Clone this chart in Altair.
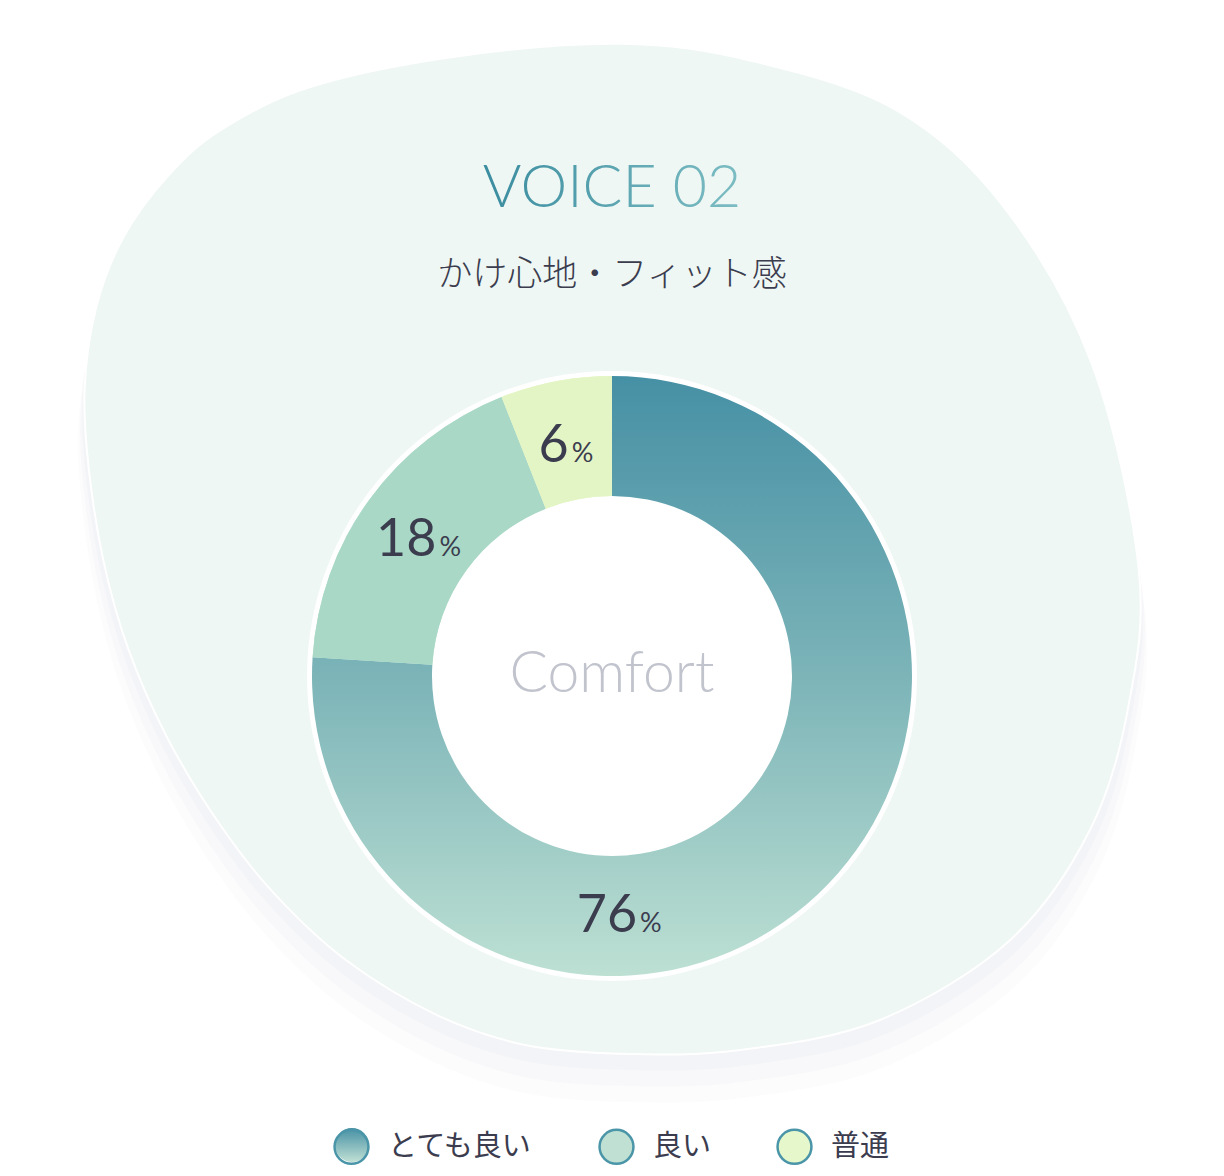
import numpy as np
import pandas as pd
import altair as alt

# ---------------- data ----------------
categories = ["とても良い", "良い", "普通"]
values = [76, 18, 6]
title_text = "VOICE 02"
subtitle_text = "かけ心地・フィット感"
center_text = "Comfort"

arc_colors = ["#7cb4b8", "#a9d9c6", "#e4f5c5"]
legend_colors = ["transparent", "#bfe0d3", "#e6f7cc"]   # first symbol drawn with a gradient below

# ---------------- layout / style ----------------
W, H = 1208, 1160
CX, CY = 604, 668
R_OUT, R_IN = 300, 180
TEXT_DARK = "#3b3c4e"

grad_v = {"gradient": "linear", "x1": 0, "y1": 0, "x2": 0, "y2": 1,
          "stops": [{"offset": 0, "color": "#4690a5"},
                    {"offset": 0.5, "color": "#7cb4b8"},
                    {"offset": 1, "color": "#bde0d3"}]}
grad_leg = {"gradient": "linear", "x1": 0, "y1": 0, "x2": 0, "y2": 1,
            "stops": [{"offset": 0, "color": "#4690a5"},
                      {"offset": 1, "color": "#c0e0d4"}]}
grad_h = {"gradient": "linear", "x1": 0, "y1": 0, "x2": 1, "y2": 0,
          "stops": [{"offset": 0, "color": "#3a8c9f"},
                    {"offset": 1, "color": "#7dbdc3"}]}

# background blob outline (unit square coords, clockwise from top)
blob_pts = [(0.016, -0.954), (0.268, -0.921), (0.538, -0.829), (0.741, -0.647),
            (0.909, -0.348), (0.998, 0.044), (0.977, 0.305), (0.905, 0.534),
            (0.754, 0.742), (0.508, 0.893), (0.243, 0.950), (0.016, 0.957),
            (-0.166, 0.940), (-0.334, 0.882), (-0.502, 0.780), (-0.639, 0.653),
            (-0.739, 0.526), (-0.841, 0.358), (-0.915, 0.189), (-0.962, 0.021),
            (-0.989, -0.149), (-0.997, -0.300), (-0.975, -0.455), (-0.925, -0.585),
            (-0.841, -0.702), (-0.739, -0.791), (-0.570, -0.872), (-0.300, -0.929)]


def smooth_closed_path(pts):
    n = len(pts)
    d = [f"M{pts[0][0]:.3f},{pts[0][1]:.3f}"]
    for i in range(n):
        p0, p1, p2, p3 = pts[(i - 1) % n], pts[i], pts[(i + 1) % n], pts[(i + 2) % n]
        c1 = (p1[0] + (p2[0] - p0[0]) / 6, p1[1] + (p2[1] - p0[1]) / 6)
        c2 = (p2[0] - (p3[0] - p1[0]) / 6, p2[1] - (p3[1] - p1[1]) / 6)
        d.append(f"C{c1[0]:.3f},{c1[1]:.3f},{c2[0]:.3f},{c2[1]:.3f},{p2[0]:.3f},{p2[1]:.3f}")
    d.append("Z")
    return " ".join(d)


blob_path = smooth_closed_path(blob_pts)
BLOB_CX, BLOB_CY, BLOB_HALF = 603.5, 540, 528.5

one = pd.DataFrame({"k": [0]})


def blob_layer(scale, dy, fill, opacity, stroke=None):
    kw = dict(shape=blob_path, size=(2 * BLOB_HALF * scale) ** 2, filled=True,
              fill=fill, opacity=opacity)
    if stroke:
        kw.update(stroke=stroke, strokeWidth=2)
    else:
        kw.update(strokeWidth=0)
    return alt.Chart(one).mark_point(**kw).encode(
        x=alt.value(BLOB_CX), y=alt.value(BLOB_CY + dy))


shadows = [blob_layer(1.012, 42, "#e4e6ec", 0.10),
           blob_layer(1.008, 28, "#e4e6ec", 0.15),
           blob_layer(1.004, 14, "#e4e6ec", 0.22)]
blob = blob_layer(1.0, 0, "#eef7f3", 1, stroke="white")

# ---------------- donut ----------------
df = pd.DataFrame({"cat": categories, "v": values, "order": list(range(len(values)))})
cum = np.cumsum(values)
mids = cum - np.array(values) / 2.0
df["mid"] = [49.4 if v > 50 else m for v, m in zip(values, mids)]
df["num"] = [str(v) for v in values]
df["pct"] = "%"
df["digits"] = df["num"].str.len()

ring = alt.Chart(one).mark_arc(radius=R_OUT + 5, radius2=0, theta=0, theta2=2 * np.pi,
                               fill="white").encode(x=alt.value(CX), y=alt.value(CY))

LEG_X, LEG_Y = 325, 1120
SYM_SIZE = 1150
SYM_STROKE = "#4a95a8"

legend = alt.Legend(orient="none", legendX=LEG_X, legendY=LEG_Y, direction="horizontal",
                    title=None, symbolType="circle", symbolSize=SYM_SIZE,
                    symbolStrokeColor=SYM_STROKE, symbolStrokeWidth=2.5, symbolOpacity=1,
                    labelFont="Noto Sans CJK JP", labelFontSize=29, labelColor=TEXT_DARK,
                    labelOffset=18, columnPadding=60, padding=0)

# background arcs only carry the legend colours (fully covered by the visible arcs)
legend_arcs = alt.Chart(df).mark_arc(outerRadius=R_OUT, innerRadius=R_IN).encode(
    theta=alt.Theta("v:Q", stack=True, scale=alt.Scale(domain=[0, 100])),
    order=alt.Order("order:Q"),
    fill=alt.Fill("cat:N", scale=alt.Scale(domain=categories, range=legend_colors),
                  legend=legend),
    x=alt.value(CX), y=alt.value(CY),
)

arcs = alt.Chart(df).mark_arc(outerRadius=R_OUT, innerRadius=R_IN).encode(
    theta=alt.Theta("v:Q", stack=True, scale=alt.Scale(domain=[0, 100])),
    order=alt.Order("order:Q"),
    stroke=alt.condition(alt.datum.cat == categories[0], alt.value(None), alt.value(None)),
    x=alt.value(CX), y=alt.value(CY),
)
arcs = alt.Chart(df).mark_arc(outerRadius=R_OUT, innerRadius=R_IN).encode(
    theta=alt.Theta("v:Q", stack=True, scale=alt.Scale(domain=[0, 100])),
    order=alt.Order("order:Q"),
    color=alt.condition(alt.datum.cat == categories[0], alt.value(grad_v),
                        alt.Color("cat:N", scale=alt.Scale(domain=categories, range=arc_colors),
                                  legend=None)),
    x=alt.value(CX), y=alt.value(CY),
)

lbl = alt.Chart(df).encode(
    theta=alt.Theta("mid:Q", scale=alt.Scale(domain=[0, 100])),
    x=alt.value(CX), y=alt.value(CY),
)
nums = lbl.mark_text(radius=237, font="Lato", fontSize=52, fontWeight=400,
                     color=TEXT_DARK, align="center", baseline="alphabetic",
                     dx=-14, dy=19).encode(text="num:N")
pct2 = lbl.transform_filter("datum.digits >= 2").mark_text(
    radius=237, font="Lato", fontSize=27, fontWeight=400, color=TEXT_DARK,
    align="center", baseline="alphabetic", dx=30, dy=19).encode(text="pct:N")
pct1 = lbl.transform_filter("datum.digits < 2").mark_text(
    radius=237, font="Lato", fontSize=27, fontWeight=400, color=TEXT_DARK,
    align="center", baseline="alphabetic", dx=15, dy=19).encode(text="pct:N")

titles = pd.DataFrame({"t": [title_text], "s": [subtitle_text], "c": [center_text]})
t1 = alt.Chart(titles).mark_text(font="Lato", fontSize=59, fontWeight=300, fill=grad_h,
                                 align="center", baseline="alphabetic").encode(
    text="t:N", x=alt.value(CX), y=alt.value(199))
t2 = alt.Chart(titles).mark_text(font="Noto Sans CJK JP", fontSize=35, fontWeight=300,
                                 color=TEXT_DARK, align="center", baseline="middle").encode(
    text="s:N", x=alt.value(CX), y=alt.value(267))
t3 = alt.Chart(titles).mark_text(font="Lato", fontSize=57, fontWeight=300, color="#c1c3cd",
                                 align="center", baseline="alphabetic").encode(
    text="c:N", x=alt.value(CX), y=alt.value(684))

# gradient fill for the first legend symbol (legend symbol itself is transparent)
leg_df = pd.DataFrame({"cat": categories[:1]})
leg_grad = alt.Chart(leg_df).mark_point(
    shape="circle", size=SYM_SIZE, filled=True, fill=grad_leg, opacity=1,
    strokeWidth=0).encode(x=alt.value(LEG_X + 19), y=alt.value(LEG_Y + 17))

chart = alt.layer(*shadows, blob, ring, legend_arcs, arcs, nums, pct2, pct1,
                  t1, t2, t3, leg_grad).properties(
    width=W, height=H, padding=0, background="white",
    autosize=alt.AutoSizeParams(type="fit", contains="padding"),
).configure_view(strokeWidth=0)

chart.save("out.html", embed_options={"renderer": "svg", "actions": False})
